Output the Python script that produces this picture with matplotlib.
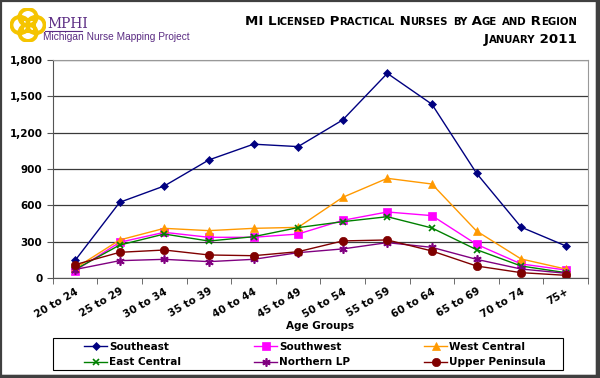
import matplotlib
matplotlib.use("Agg")
import matplotlib.pyplot as plt
import matplotlib.patches as patches
from matplotlib.ticker import FuncFormatter, FixedLocator

age_groups = ['20 to 24', '25 to 29', '30 to 34', '35 to 39', '40 to 44', '45 to 49',
              '50 to 54', '55 to 59', '60 to 64', '65 to 69', '70 to 74', '75+']

southeast = [145, 625, 760, 975, 1105, 1085, 1305, 1690, 1435, 865, 420, 265]
southwest = [60, 295, 377, 336, 336, 363, 476, 545, 515, 278, 116, 66]
west_central = [80, 314, 410, 391, 410, 418, 666, 823, 776, 388, 157, 74]
east_central = [70, 272, 363, 305, 341, 416, 465, 506, 413, 234, 99, 44]
northern_lp = [70, 143, 154, 135, 154, 209, 240, 292, 253, 154, 74, 39]
upper_peninsula = [110, 212, 231, 190, 184, 217, 306, 314, 223, 99, 44, 22]

series = [
    ('Southeast', southeast, '#000080', 'D', 4),
    ('Southwest', southwest, '#FF00FF', 's', 5.5),
    ('West Central', west_central, '#FF9900', '^', 6),
    ('East Central', east_central, '#008000', 'x', 5),
    ('Northern LP', northern_lp, '#800080', (6, 2, 0), 6),
    ('Upper Peninsula', upper_peninsula, '#800000', 'o', 6),
]

fig = plt.figure(figsize=(6, 3.78), dpi=100)
ax = fig.add_axes([0.088, 0.2646, 0.892, 0.5766])

x = list(range(len(age_groups)))
handles = {}
for name, vals, col, mk, ms in series:
    h, = ax.plot(x, vals, color=col, marker=mk, markersize=ms, lw=1,
                 markeredgewidth=1.2 if mk in ('x', (6, 2, 0)) else 0.5,
                 markeredgecolor=col, label=name)
    handles[name] = h

ax.set_xlim(-0.5, len(age_groups) - 0.5)
ax.set_ylim(0, 1800)
ax.set_yticks(range(0, 1801, 300))
ax.yaxis.set_major_formatter(FuncFormatter(lambda v, p: f'{int(v):,}'))
ax.yaxis.grid(True, color='#3a3a3a', lw=0.9)
ax.set_axisbelow(True)

ax.set_xticks(x)
ax.set_xticklabels(age_groups, rotation=30, ha='right', rotation_mode='anchor',
                   fontsize=7.5, fontweight='bold')
ax.xaxis.set_minor_locator(FixedLocator([i - 0.5 for i in range(len(age_groups) + 1)]))
ax.tick_params(axis='x', which='major', length=0, pad=6)
ax.tick_params(axis='x', which='minor', length=4, color='#555555')
ax.tick_params(axis='y', length=4, color='#555555', labelsize=7.5)
for t in ax.get_yticklabels():
    t.set_fontweight('bold')

for s in ['top', 'right']:
    ax.spines[s].set_color('#999999')
for s in ['left', 'bottom']:
    ax.spines[s].set_color('#555555')

ax.set_xlabel('Age Groups', fontsize=7.5, fontweight='bold', labelpad=1)

# legend: frame plus three two-row columns
fig.patches.append(patches.Rectangle((53 / 600, 1 - 370 / 378), 510 / 600, 32 / 378,
                                     transform=fig.transFigure, fill=False,
                                     edgecolor='black', lw=0.8))
columns = [('Southeast', 'East Central'), ('Southwest', 'Northern LP'),
           ('West Central', 'Upper Peninsula')]
col_left = [81, 251, 421]
for names, px in zip(columns, col_left):
    lg = fig.legend([handles[n] for n in names], names, loc='upper left',
                    bbox_to_anchor=(px / 600, 1 - 338.5 / 378), frameon=False,
                    handlelength=2.2, handletextpad=0.2, labelspacing=0.55,
                    borderpad=0.3, borderaxespad=0,
                    prop={'size': 7.5, 'weight': 'bold'})

# image frame
fig.patches.append(patches.Rectangle((0.002, 0.004), 0.993, 0.993, transform=fig.transFigure,
                                     fill=False, edgecolor='#404040', lw=1.6))
fig.patches.append(patches.Rectangle((0.994, 0.0), 0.006, 1.0, transform=fig.transFigure,
                                     color='#404040'))
fig.patches.append(patches.Rectangle((0.0, 0.0), 1.0, 0.007, transform=fig.transFigure,
                                     color='#404040'))

# logo
logo = fig.add_axes([10 / 600, 1 - 42 / 378, 36 / 600, 34 / 378])
logo.set_xlim(0, 1)
logo.set_ylim(0, 1)
logo.axis('off')
for cx, cy in [(0.28, 0.5), (0.72, 0.5), (0.5, 0.27), (0.5, 0.73)]:
    logo.add_patch(patches.Circle((cx, cy), 0.24, fill=False, edgecolor='#F5C400', lw=2.8))
logo.add_patch(patches.Rectangle((0.32, 0.32), 0.36, 0.36, fill=False, edgecolor='#F5C400', lw=2.2))
fig.text(47 / 600, 1 - 28 / 378, 'MPHI', fontsize=10, family='DejaVu Serif',
         color='#5B2C83', va='baseline')
fig.add_artist(plt.Line2D([45 / 600, 82 / 600], [1 - 30.5 / 378, 1 - 30.5 / 378],
                          color='#5B2C83', lw=0.8))
fig.text(43 / 600, 1 - 40 / 378, 'Michigan Nurse Mapping Project', fontsize=7.3,
         family='Liberation Sans', color='#5B2C83', va='baseline')


def small_caps(text, right, y, big=9.6, small=7.3):
    renderer = fig.canvas.get_renderer()
    pieces = []
    cur = ''
    cur_up = None
    for ch in text:
        up = not ch.islower()
        if cur_up is None or up == cur_up:
            cur += ch
        else:
            pieces.append((cur, cur_up))
            cur = ch
        cur_up = up
    pieces.append((cur, cur_up))
    artists = []
    xpos = 0.0
    for s, up in pieces:
        t = fig.text(xpos, y, s.upper(), fontsize=big if up else small,
                     fontweight='bold', ha='left', va='baseline')
        w = t.get_window_extent(renderer).width / fig.bbox.width
        artists.append((t, xpos))
        xpos += w
    for t, x0 in artists:
        t.set_x(right - xpos + x0)


small_caps('MI Licensed Practical Nurses by Age and Region', 0.962, 0.935)
small_caps('January 2011', 0.962, 0.887)

fig.savefig('out.png', dpi=100)
